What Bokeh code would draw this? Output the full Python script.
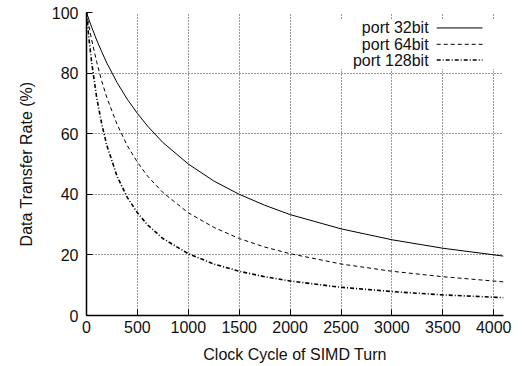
from bokeh.plotting import figure
from bokeh.models import Range1d, Label, FixedTicker, BoxAnnotation
from bokeh.embed import file_html
from bokeh.resources import INLINE

cycles = [0, 25, 50, 100, 150, 200, 300, 400, 500, 600, 750, 1000, 1250, 1500,
          1750, 2000, 2500, 3000, 3500, 4096]
port32 = [100.0, 97.6, 95.2, 90.9, 87.0, 83.3, 76.9, 71.4, 66.7, 62.5, 57.1,
          50.0, 44.4, 40.0, 36.4, 33.3, 28.6, 25.0, 22.2, 19.6]
port64 = [100.0, 95.3, 91.1, 83.7, 77.3, 71.9, 63.1, 56.1, 50.6, 46.0, 40.6,
          33.9, 29.1, 25.4, 22.6, 20.4, 17.0, 14.6, 12.8, 11.1]
port128 = [100.0, 91.1, 83.7, 71.9, 63.1, 56.1, 46.0, 39.0, 33.9, 29.9, 25.4,
           20.4, 17.0, 14.6, 12.8, 11.4, 9.3, 7.9, 6.8, 5.9]
series_names = ["port 32bit", "port 64bit", "port 128bit"]
x_ticks = [0, 500, 1000, 1500, 2000, 2500, 3000, 3500, 4000]
y_ticks = [0, 20, 40, 60, 80, 100]

FONT = "Liberation Sans"

p = figure(width=514, height=365, output_backend="svg", toolbar_location=None,
           x_range=Range1d(0, 4096), y_range=Range1d(0, 100),
           min_border_left=86, min_border_right=11, min_border_top=12,
           min_border_bottom=48)
p.outline_line_color = None
p.background_fill_color = "white"

for ax in (p.xaxis[0], p.yaxis[0]):
    ax.axis_line_color = "black"
    ax.axis_line_width = 1.5
    ax.major_tick_in = 6
    ax.major_tick_out = 0
    ax.major_tick_line_color = "black"
    ax.minor_tick_line_color = None
    ax.major_label_text_font = FONT
    ax.major_label_text_font_size = "16px"
    ax.major_label_text_color = "#111111"
    ax.axis_label_text_font = FONT
    ax.axis_label_text_font_size = "16px"
    ax.axis_label_text_font_style = "normal"
    ax.axis_label_text_color = "#111111"

p.xaxis[0].ticker = FixedTicker(ticks=x_ticks)
p.yaxis[0].ticker = FixedTicker(ticks=y_ticks)
p.xaxis[0].axis_label = "Clock Cycle of SIMD Turn"
p.yaxis[0].axis_label = "Data Transfer Rate (%)"
p.xaxis[0].major_label_standoff = 5
p.yaxis[0].major_label_standoff = 8
p.xaxis[0].axis_label_standoff = 10
p.yaxis[0].axis_label_standoff = 14

for g in (p.xgrid[0], p.ygrid[0]):
    g.grid_line_color = "black"
    g.grid_line_dash = "1 2"
    g.grid_line_width = 1
    g.grid_line_alpha = 0.8

# white legend background hiding the grid
p.add_layout(BoxAnnotation(left=2400, right=4096, top=97.7, bottom=81.3,
                           fill_color="white", fill_alpha=1.0,
                           line_color=None, level="underlay"))

p.line(cycles, port32, line_color="black", line_width=1)
p.line(cycles, port64, line_color="black", line_width=1, line_dash="4 3")
p.line(cycles, port128, line_color="black", line_width=1.6, line_dash="4 2 1 2")

# manual legend (text right-aligned, sample on right)
styles = [dict(line_width=1), dict(line_width=1, line_dash="4 3"),
          dict(line_width=1.6, line_dash="4 2 1 2")]
ys = [94.9, 89.5, 84.3]
for name, st, yv in zip(series_names, styles, ys):
    p.add_layout(Label(x=3360, y=yv, text=name, text_align="right",
                       text_baseline="middle", text_font=FONT,
                       text_font_size="16px", text_color="#111111"))
    p.line([3440, 3890], [yv, yv], line_color="black", **st)

open("out.html", "w").write(file_html(p, INLINE))
